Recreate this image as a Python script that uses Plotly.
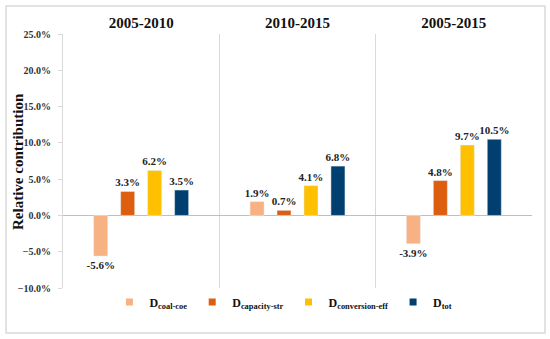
import plotly.graph_objects as go

periods = ["2005-2010", "2010-2015", "2005-2015"]
series_names = ["D<sub>coal-coe</sub>", "D<sub>capacity-str</sub>", "D<sub>conversion-eff</sub>", "D<sub>tot</sub>"]
coal_coe = [-0.056, 0.019, -0.039]
capacity_str = [0.033, 0.007, 0.048]
conversion_eff = [0.062, 0.041, 0.097]
tot = [0.035, 0.068, 0.105]
colors = ["#F8B183", "#DD5E0E", "#FFC000", "#003F6F"]
y_title = "Relative contribution"

FONT = "Liberation Serif, Times New Roman, serif"

fig = go.Figure()
for name, vals, col in zip(series_names, [coal_coe, capacity_str, conversion_eff, tot], colors):
    fig.add_trace(go.Bar(
        x=periods, y=vals, name=name, marker_color=col, showlegend=False,
        text=[f"{v*100:.1f}%" for v in vals], textposition="outside",
        constraintext="none",
        textfont=dict(family=FONT, size=11, color="#222", weight="bold"),
        cliponaxis=False,
    ))
# legend entries with small square swatches
for name, col in zip(series_names, colors):
    fig.add_trace(go.Scatter(
        x=[None], y=[None], mode="markers", name=name,
        marker=dict(symbol="square", size=7, color=col), showlegend=True,
    ))

fig.update_layout(
    width=550, height=339,
    margin=dict(l=63, r=18, t=34, b=51),
    paper_bgcolor="white", plot_bgcolor="white",
    barmode="group", bargap=0.31, bargroupgap=0.48,
    font=dict(family=FONT, color="#222"),
    showlegend=True,
    legend=dict(orientation="h", x=0.47, xanchor="center", y=-0.055, yanchor="middle",
                font=dict(family=FONT, size=12, color="#111", weight="bold"),
                itemwidth=30, tracegroupgap=0, bgcolor="rgba(0,0,0,0)"),
    xaxis=dict(side="top", type="category", tickson="boundaries", showgrid=True,
               gridcolor="#D9D9D9", gridwidth=1, ticks="", showline=False,
               automargin=False,
               tickfont=dict(family=FONT, size=15, color="#111", weight="bold"),
               ticklabelstandoff=2),
    yaxis=dict(range=[-0.1, 0.25], dtick=0.05, tickformat=".1%",
               showgrid=False, zeroline=True, zerolinecolor="#BFBFBF", zerolinewidth=1,
               showline=True, linecolor="#D9D9D9", ticks="outside", ticklen=4,
               tickcolor="#D9D9D9", automargin=False, ticklabelstandoff=5,
               tickfont=dict(family=FONT, size=10, color="#333", weight="bold")),
    annotations=[dict(text=y_title, xref="paper", yref="paper", x=-0.096, y=0.5,
                      xanchor="center", yanchor="middle", textangle=-90, showarrow=False,
                      font=dict(family=FONT, size=15, color="#111", weight="bold"))],
)
fig.add_shape(type="rect", xref="paper", yref="paper",
              x0=-0.1215, x1=1.0277, y0=-0.177, y1=1.110,
              line=dict(color="#D9D9D9", width=1.5), fillcolor="rgba(0,0,0,0)", layer="below")

fig.write_html("out.html", config={"displayModeBar": False},
               post_script="document.body.style.margin='0';")
